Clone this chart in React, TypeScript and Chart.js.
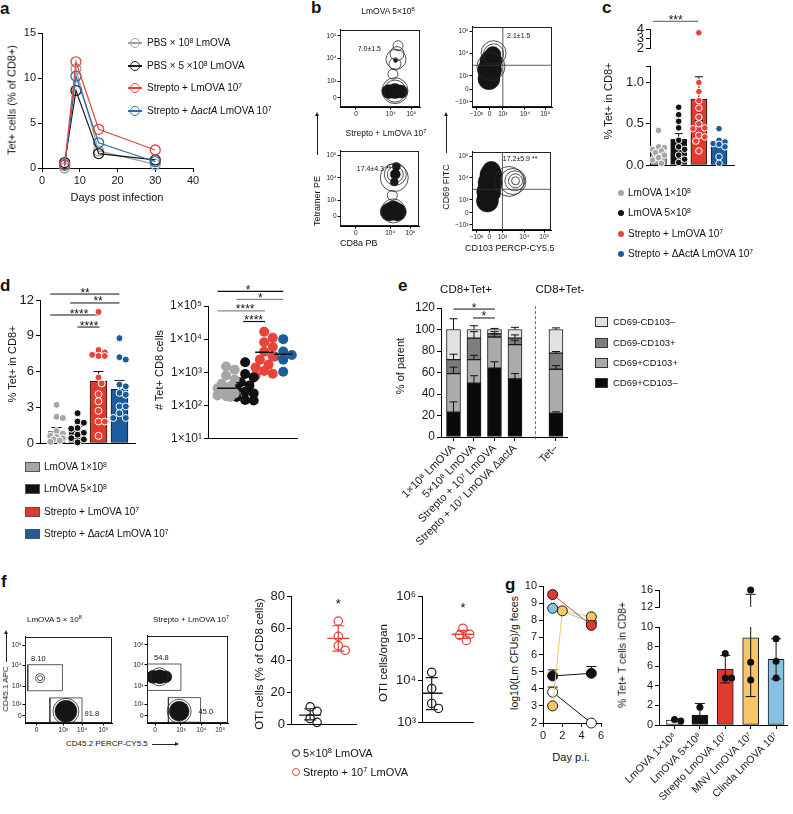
import React, { useEffect, useRef } from 'react';
import { Chart, registerables } from 'chart.js';

Chart.register(...registerables);
const FONT = "'Liberation Sans', Arial, Helvetica, sans-serif";
Chart.defaults.font.family = FONT;
Chart.defaults.font.size = 11;
Chart.defaults.color = '#1a1a1a';

/* ================= DATA ================= */
// a
const aDays = [6, 9, 15, 30];
const aPbs1e8 = [0.0, 11.0, 1.9, 0.4];
const aPbs5e8 = [0.6, 8.6, 1.6, 0.9];
const aStrepto = [0.4, 11.8, 4.3, 2.0];
const aStreptoActA = [0.3, 10.2, 2.8, 0.7];
const aXTicks = [0, 10, 20, 30, 40];
const aYTicks = [0, 5, 10, 15];

// b (flow plots, axis units)
const bTetTicksX = [0, 1.7, 2.7];
const bTetLabelsX = ['0', '10⁴', '10⁵'];
const bTetTicksY = [0, 0.74, 1.74, 2.74];
const bTetLabelsY = ['0', '10³', '10⁴', '10⁵'];
const bCdTicksX = [-1, 0, 1, 2.67, 4.2];
const bCdTicksY = [-0.93, 0, 1, 2.67, 4.33];
const bCdLabels = ['−10³', '0', '10³', '10⁴', '10⁵'];
const bTLDense = [{ x: 1.6, y: 0.28, r: 7 }, { x: 1.9, y: 0.3, r: 7.5 }, { x: 2.2, y: 0.28, r: 6.5 }, { x: 1.93, y: 1.65, r: 2 }];
const bTLRings = [{ x: 1.9, y: 0.3, r: 11 }, { x: 1.9, y: 0.32, r: 13 }, { x: 1.8, y: 1.05, r: 5 }, { x: 1.9, y: 1.5, r: 6 }, { x: 2.0, y: 1.95, r: 7 }, { x: 2.05, y: 2.3, r: 5 }, { x: 1.95, y: 1.7, r: 10 }];
const bBLDense = [{ x: 1.65, y: 0.2, r: 9 }, { x: 2.05, y: 0.2, r: 9 }, { x: 1.85, y: 0.3, r: 9 }, { x: 1.9, y: 1.55, r: 4 }, { x: 1.95, y: 1.9, r: 5 }, { x: 2.0, y: 2.25, r: 4 }];
const bBLRings = [{ x: 1.85, y: 0.25, r: 12 }, { x: 1.95, y: 1.9, r: 8 }, { x: 1.95, y: 1.9, r: 11 }, { x: 1.9, y: 1.75, r: 14 }, { x: 1.8, y: 0.95, r: 5 }];
const bTRDense = [{ x: -0.05, y: 0.8, r: 11 }, { x: 0, y: 1.45, r: 12 }, { x: 0.1, y: 2.1, r: 11 }, { x: 0.25, y: 2.6, r: 8 }];
const bTRRings = [{ x: 0.3, y: 2.65, r: 10 }, { x: 0.3, y: 2.7, r: 12.5 }, { x: 0.1, y: 1.7, r: 14 }];
const bBRDense = [{ x: -0.15, y: 0.9, r: 11 }, { x: -0.05, y: 1.6, r: 12 }, { x: 0.05, y: 2.3, r: 12 }, { x: 0.12, y: 2.9, r: 11 }, { x: 0.15, y: 3.25, r: 9 }];
const bBRRings = [{ x: 2.0, y: 2.45, r: 4 }, { x: 2.0, y: 2.45, r: 7 }, { x: 1.95, y: 2.45, r: 10 }, { x: 1.8, y: 2.4, r: 13 }, { x: 1.5, y: 2.4, r: 15 }];
const bQuadX = 1;
const bQuadY = 1.8;

// c
const cGroups = ['LmOVA 1×10⁸', 'LmOVA 5×10⁸', 'Strepto + LmOVA 10⁷', 'Strepto + ΔActA LmOVA 10⁷'];
const cMeans = [0.16, 0.31, 0.80, 0.24];
const cErrLo = [0.16, 0.31, 0.54, 0.24];
const cErrHi = [0.19, 0.38, 1.07, 0.27];
const cPts1 = [0.42, 0.22, 0.21, 0.19, 0.17, 0.15, 0.12, 0.09, 0.06, 0.02];
const cPts2 = [0.70, 0.61, 0.53, 0.45, 0.30, 0.22, 0.19, 0.12, 0.07, 0.03];
const cPts3 = [3.6, 1.0, 0.89, 0.78, 0.69, 0.58, 0.50, 0.45, 0.44, 0.36, 0.34, 0.29, 0.17];
const cPts4 = [0.44, 0.30, 0.28, 0.26, 0.25, 0.22, 0.10, 0.02];
const cYTicks = [0, 0.5, 1.0, 1.2];
const cYLabels = ['0.0', '0.5', '1.0', ''];

// d
const dGroups = ['LmOVA 1×10⁸', 'LmOVA 5×10⁸', 'Strepto + LmOVA 10⁷', 'Strepto + ΔactA LmOVA 10⁷'];
const dMeans = [0.95, 1.05, 5.2, 4.5];
const dErrHi = [1.3, 1.4, 6.0, 5.25];
const dPts1 = [3.2, 2.2, 2.1, 1.0, 0.8, 0.6, 0.5, 0.4, 0.3, 0.2, 0.1];
const dPts2 = [2.5, 1.8, 1.7, 1.25, 1.2, 0.85, 0.7, 0.4, 0.3, 0.05];
const dPts3 = [11.0, 7.8, 7.6, 7.4, 7.3, 7.3, 5.5, 5.0, 4.1, 3.5, 2.7, 1.8, 1.8, 0.6];
const dPts4 = [8.8, 7.2, 7.0, 4.9, 4.75, 4.2, 4.05, 3.07, 3.07, 2.5, 2.1, 2.1];
const dLBrackets = [[-0.3, 3.0, 12.5], [0.65, 3.0, 11.75], [-0.3, 2.05, 10.74], [1.0, 2.05, 9.73]];
const dLStars = ['**', '**', '****', '****'];
const dLStarX = [1.36, 1.98, 1.07, 1.55];
const dCnt1 = [1500, 1200, 800, 600, 450, 380, 330, 280, 230, 200, 190, 180];
const dCnt2 = [2000, 880, 700, 500, 400, 320, 260, 230, 180, 145, 140];
const dCnt3 = [16600, 11000, 8000, 5800, 4200, 3000, 2400, 1700, 1400, 1100, 900, 800];
const dCnt4 = [10000, 4200, 3300, 3000, 2400, 1040];
const dMedians = [330, 480, 4000, 3500];
const dRBrackets = [[-0.45, 3.0, 275000], [0.55, 3.0, 158000], [-0.45, 2.05, 71000], [0.9, 2.05, 34000]];
const dRStars = ['*', '*', '****', '****'];
const dRStarX = [1.15, 1.8, 1.0, 1.45];
const dRTicks = [10, 100, 1000, 10000, 100000];
const dRLabels = ['1×10¹', '1×10²', '1×10³', '1×10⁴', '1×10⁵'];

// e
const eCats = ['1×10⁸ LmOVA', '5×10⁸ LmOVA', 'Strepto + 10⁷ LmOVA', 'Strepto + 10⁷ LmOVA ΔactA', 'Tet–'];
const eX = [0, 1, 2, 3, 5];
const eSeries = ['CD69+CD103–', 'CD69+CD103+', 'CD69-CD103+', 'CD69-CD103–'];
const eCD69pCD103n = [23, 50, 64, 54, 22];
const eCD69pCD103p = [36, 22, 29, 32, 41];
const eCD69nCD103p = [13, 20, 3, 6, 15];
const eCD69nCD103n = [28, 8, 4, 8, 22];
const eErr1 = [9.7, 7, 6, 5, 1.4];
const eErr2 = [6, 4, 3, 4, 3.4];
const eErr3 = [5, 6, 2, 3, 1.5];
const eErr4 = [10, 3.5, 1, 2, 1.5];
const eYTicks = [0, 20, 40, 60, 80, 100, 120];
const eBrackets = [[0, 2.02, 119], [0.95, 2.02, 110.7]];
const eStars = ['*', '*'];

// f
const fTicksY = [0, 0.59, 1.5, 2.55, 3.55];
const fLabelsY = ['0', '10²', '10³', '10⁴', '10⁵'];
const f1TicksX = [0, 1.36, 2.32, 3.41];
const f2TicksX = [0, 1.32, 2.36, 3.32];
const fLabelsX = ['0', '10³', '10⁴', '10⁵'];
const f1Dense = [{ x: 1.5, y: 0.23, r: 11 }];
const f1Rings = [{ x: 1.5, y: 0.23, r: 13 }, { x: 0.18, y: 1.91, r: 2.5 }, { x: 0.18, y: 1.91, r: 4.5 }];
const f2Dense = [{ x: -0.1, y: 1.95, r: 6.5 }, { x: 0.25, y: 1.95, r: 7 }, { x: 0.55, y: 1.95, r: 6 }, { x: 1.23, y: 0.23, r: 10 }];
const f2Rings = [{ x: 1.23, y: 0.23, r: 12 }, { x: 0.22, y: 1.95, r: 9 }];
const fGateUpper = [-0.45, 1.27, 1.32, 2.59];
const fGateLower = [0.68, -0.32, 2.32, 0.91];
const fGateUpper2 = [-0.41, 1.27, 1.32, 2.59];
const fPctCtrl = [11.1, 8.3, 3.8, 1.4];
const fPctStrep = [64.6, 55.1, 49.2, 46.4];
const fPctMean = [5.9, 53.8];
const fPctSdLo = [3.0, 45.8];
const fPctSdHi = [9.9, 61.7];
const fCntCtrl = [15700, 6430, 2850, 2170];
const fCntStrep = [175000, 126000, 120000, 89600];
const fCntMean = [4970, 126000];
const fCntSdLo = [2030, 100000];
const fCntSdHi = [11700, 155000];

// g
const gRed = [{ x: 1, y: 9.5 }, { x: 5, y: 7.7 }];
const gBlue = [{ x: 1, y: 8.7 }, { x: 5, y: 7.9 }];
const gYellow = [{ x: 1, y: 3.0 }, { x: 2, y: 8.55 }, { x: 5, y: 8.2 }];
const gBlack = [{ x: 1, y: 4.75 }, { x: 5, y: 4.9 }];
const gBlackErr = [5.1, 5.3];
const gOpen = [{ x: 1, y: 3.8 }, { x: 5, y: 2.0 }];
const gOpenErr = [4.1, 2.0];
const gCats = ['LmOVA 1×10⁸', 'LmOVA 5×10⁸', 'Strepto LmOVA 10⁷', 'MNV LmOVA 10⁷', 'Clinda LmOVA 10⁷'];
const gMeans = [0.5, 1.0, 5.7, 8.9, 6.7];
const gErrLo = [0.5, 1.0, 4.3, 2.9, 4.7];
const gErrHi = [0.5, 2.2, 7.1, 15.0, 8.8];
const gPts = [[0.4, 0.55], [1.8], [7.3, 4.8, 4.8], [16, 6.4, 4.6], [8.8, 6.5, 4.8]];

/* ================= STYLE ================= */
const A_COLS = ['#a0a0a0', '#1a1a1a', '#e5463b', '#2b6ea7'];
const C_COLS = ['#a6a6a6', '#111111', '#e2392e', '#1d5c9c'];
const C_PT = ['#a6a6a6', '#111111', '#e8453a', '#1d5c9c'];
const E_COLS = ['#0a0a0a', '#ababab', '#7d7d7d', '#e2e2e2'];
const F_COLS = ['#1a1a1a', '#e0453a'];
const G_COLS = ['#ffffff', '#111111', '#e0392d', '#f6c667', '#86c1e2'];

const R: Record<string, number[]> = {
  a: [42, 33, 193, 168],
  bTL: [340, 22, 430, 107], bBL: [340, 142, 430, 227], bTR: [472, 18, 563, 108], bBR: [472, 142, 563, 232],
  cLo: [650, 66, 734, 165], cHi: [650, 29, 734, 53],
  dL: [40, 300, 135, 443], dR: [208, 306, 302, 443],
  e: [441, 308, 567, 437],
  f1: [25, 627, 123, 723], f2: [147, 627, 238, 723],
  fM: [291, 596, 363, 731], fR: [422, 596, 480, 729],
  gL: [543, 586, 601, 723], gLo: [659, 627, 787, 725], gHi: [659, 590, 787, 613],
};

/* ================= HELPERS ================= */
function ax(o: any) {
  const ticks: number[] | undefined = o.ticks;
  return {
    type: o.type || 'linear',
    min: o.min, max: o.max, offset: false,
    grid: ticks ? { display: true, drawOnChartArea: false, drawTicks: true, tickLength: o.tickLen ?? 4, color: '#000', lineWidth: 1, offset: false } : { display: false },
    border: { display: o.border !== false, color: '#000', width: 1 },
    afterBuildTicks: ticks ? (s: any) => { s.ticks = ticks.map((v) => ({ value: v })); } : undefined,
    ticks: {
      display: !!ticks,
      autoSkip: false,
      maxRotation: o.rot ?? 0, minRotation: o.rot ?? 0,
      padding: o.pad ?? 2,
      color: '#1a1a1a',
      font: { size: o.size ?? 11 },
      callback: (v: number) => {
        if (!ticks) return '';
        const i = ticks.findIndex((t) => Math.abs(t - v) < 1e-6 * Math.max(1, Math.abs(t)));
        return o.labels ? (o.labels[i] ?? '') : String(v);
      },
    },
  };
}

function annot(texts: any[] = [], frame = false) {
  return {
    id: 'annot',
    afterDatasetsDraw(chart: any) {
      const ctx = chart.ctx, xs = chart.scales.x, ys = chart.scales.y, a = chart.chartArea;
      ctx.save();
      if (frame) {
        ctx.strokeStyle = '#222'; ctx.lineWidth = 1;
        ctx.strokeRect(Math.round(a.left) + 0.5, Math.round(a.top) + 0.5, Math.round(a.right - a.left) - 1, Math.round(a.bottom - a.top) - 1);
      }
      for (const t of texts) {
        ctx.font = `${t.size ?? 11}px ${FONT}`;
        ctx.fillStyle = t.color ?? '#111';
        ctx.textAlign = t.align ?? 'center';
        ctx.textBaseline = t.base ?? 'middle';
        ctx.fillText(t.text, xs.getPixelForValue(t.x) + (t.dx ?? 0), ys.getPixelForValue(t.y) + (t.dy ?? 0));
      }
      ctx.restore();
    },
  };
}

function swarm(vals: number[], pyScale: number, pxScale: number, r: number, maxPx: number, log = false): number[] {
  const res = new Array(vals.length).fill(0);
  const placed: number[][] = [];
  const idx = vals.map((_, i) => i).sort((a, b) => vals[b] - vals[a]);
  const step = r * 0.9;
  for (const i of idx) {
    const py = (log ? Math.log10(vals[i]) : vals[i]) * pyScale;
    let chosen = 0, bestD = -1;
    for (let k = 0; k < 40; k++) {
      const off = k === 0 ? 0 : (k % 2 ? 1 : -1) * Math.ceil(k / 2) * step;
      if (Math.abs(off) > maxPx) continue;
      let md = Infinity;
      for (const p of placed) md = Math.min(md, Math.hypot(off - p[0], py - p[1]));
      if (md >= 2 * r * 0.9) { chosen = off; break; }
      if (md > bestD) { bestD = md; chosen = off; }
    }
    placed.push([chosen, py]);
    res[i] = chosen / pxScale;
  }
  return res;
}

function stems(xs: number[], lo: number[], hi: number[]) {
  const d: any[] = [];
  xs.forEach((x, i) => { if (hi[i] !== lo[i]) d.push({ x, y: lo[i] }, { x, y: hi[i] }, { x, y: null }); });
  return d;
}
function lineDs(data: any[], color: string, width = 1, extra: any = {}) {
  return { type: 'line', data, borderColor: color, borderWidth: width, pointRadius: 0, spanGaps: false, tension: 0, ...extra };
}
function capDs(data: any[], r: number, color: any, width = 1, extra: any = {}) {
  return { type: 'scatter', data, pointStyle: 'line', pointRadius: r, borderColor: color, pointBorderColor: color, pointBorderWidth: width, borderWidth: width, ...extra };
}
function dots(data: any[], r: number, fill: any, stroke: any, bw: number, extra: any = {}) {
  return { type: 'scatter', data, pointRadius: r, pointBackgroundColor: fill, pointBorderColor: stroke, pointBorderWidth: bw, backgroundColor: fill, borderColor: stroke, clip: false, ...extra };
}
function rectPath(g: number[]) {
  return [{ x: g[0], y: g[1] }, { x: g[2], y: g[1] }, { x: g[2], y: g[3] }, { x: g[0], y: g[3] }, { x: g[0], y: g[1] }];
}
function barDs(data: any[], colors: any, thick: number, extra: any = {}) {
  return { type: 'bar', data, backgroundColor: colors, borderColor: '#1a1a1a', borderWidth: 1, barThickness: thick, grouped: false, borderSkipped: false, order: 5, ...extra };
}

type M = { l: number; t: number; r: number; b: number };
function ChartBox({ rect, m, make }: { rect: number[]; m: M; make: () => any }) {
  const ref = useRef<HTMLCanvasElement | null>(null);
  const [x0, y0, x1, y1] = rect;
  const W = Math.round(x1 - x0 + m.l + m.r), H = Math.round(y1 - y0 + m.t + m.b);
  useEffect(() => {
    const cfg = make();
    const o = cfg.options || (cfg.options = {});
    o.animation = false; o.responsive = false; o.maintainAspectRatio = false; o.devicePixelRatio = 1; o.events = [];
    o.layout = { padding: { left: 0, top: m.t, right: m.r, bottom: 0 } };
    o.plugins = { legend: { display: false }, tooltip: { enabled: false }, ...(o.plugins || {}) };
    o.scales.x.afterFit = (s: any) => { s.height = m.b; s.paddingLeft = 0; s.paddingRight = 0; };
    o.scales.y.afterFit = (s: any) => { s.width = m.l; s.paddingTop = 0; s.paddingBottom = 0; };
    const ch = new Chart(ref.current as HTMLCanvasElement, cfg);
    return () => ch.destroy();
  }, []);
  return <canvas ref={ref} width={W} height={H} style={{ position: 'absolute', left: x0 - m.l, top: y0 - m.t, width: W, height: H }} />;
}

/* ================= CHART CONFIGS ================= */
function cfgA() {
  const s = (ys: number[], color: string, ord: number) => ({
    type: 'line', data: aDays.map((d, i) => ({ x: d, y: ys[i] })), borderColor: color, borderWidth: 1.2, tension: 0,
    pointRadius: 5, pointBorderWidth: 1.3, pointBackgroundColor: 'rgba(0,0,0,0)', pointBorderColor: color, clip: false, order: ord,
  });
  return {
    type: 'scatter',
    data: { datasets: [s(aStrepto, A_COLS[2], 0), s(aStreptoActA, A_COLS[3], 1), s(aPbs5e8, A_COLS[1], 2), s(aPbs1e8, A_COLS[0], 3)] },
    options: { scales: { x: ax({ min: 0, max: 40, ticks: aXTicks, size: 11 }), y: ax({ min: 0, max: 15, ticks: aYTicks, size: 11 }) } },
  };
}

function cfgFlow(p: any) {
  const ds: any[] = [
    { type: 'bubble', data: p.dense, backgroundColor: '#151515', borderColor: '#151515', borderWidth: 0.5, order: 2 },
    { type: 'bubble', data: p.rings, backgroundColor: 'rgba(0,0,0,0)', borderColor: '#2a2a2a', borderWidth: 0.8, order: 1 },
    ...p.segs.map((sg: any[]) => lineDs(sg, '#333', 0.8, { order: 0 })),
  ];
  return {
    type: 'scatter', data: { datasets: ds },
    options: { scales: {
      x: ax({ min: p.rx[0], max: p.rx[1], ticks: p.xt, labels: p.xl, size: 6.5, tickLen: 2.5, pad: 1 }),
      y: ax({ min: p.ry[0], max: p.ry[1], ticks: p.yt, labels: p.yl, size: 6.5, tickLen: 2.5, pad: 1 }),
    } },
    plugins: [annot(p.texts.map((t: any) => ({ size: 7, ...t })), true)],
  };
}
const quad = (rx: number[], ry: number[]) => [[{ x: bQuadX, y: ry[0] }, { x: bQuadX, y: ry[1] }], [{ x: rx[0], y: bQuadY }, { x: rx[1], y: bQuadY }]];

function cfgCLo() {
  const xs = cMeans.map((_, i) => i);
  const groups = [cPts1, cPts2, cPts3, cPts4];
  const ds: any[] = [
    barDs(xs.map((x, i) => ({ x, y: cMeans[i] })), C_COLS, 16),
    lineDs(stems(xs, cErrLo, cErrHi), '#111', 1, { order: 3 }),
    capDs(xs.map((x, i) => ({ x, y: cErrHi[i] })), 4, '#111', 1, { order: 3 }),
    capDs(xs.filter((i) => cErrLo[i] < cMeans[i]).map((x) => ({ x, y: cErrLo[x] })), 4, '#111', 1, { order: 3 }),
  ];
  groups.forEach((g, k) => {
    const vals = g.filter((v) => v <= 1.2);
    const off = swarm(vals, 82.7, 20.2, 3.3, 8);
    ds.push(dots(vals.map((v, i) => ({ x: k + off[i], y: v })), 3.3, C_PT[k], '#ffffff', 1, { order: 0 }));
  });
  return { type: 'scatter', data: { datasets: ds }, options: { scales: { x: ax({ min: -0.42, max: 3.74 }), y: ax({ min: 0, max: 1.2, ticks: cYTicks, labels: cYLabels, size: 13 }) } } };
}
function cfgCHi() {
  const groups = [cPts1, cPts2, cPts3, cPts4];
  const ds: any[] = [lineDs([{ x: -0.27, y: 4.8 }, { x: 1.96, y: 4.8 }], '#777', 1.3, { clip: false })];
  groups.forEach((g, k) => {
    const vals = g.filter((v) => v > 1.2);
    if (vals.length) ds.push(dots(vals.map((v) => ({ x: k, y: v })), 3.3, C_PT[k], '#ffffff', 1));
  });
  return {
    type: 'scatter', data: { datasets: ds },
    options: { scales: { x: ax({ min: -0.42, max: 3.74, border: false }), y: ax({ min: 2, max: 4, ticks: [2, 3, 4], size: 13 }) } },
    plugins: [annot([{ x: 0.85, y: 4.8, text: '***', size: 12, base: 'alphabetic', dy: 2.5 }])],
  };
}

function cfgDL() {
  const xs = dMeans.map((_, i) => i);
  const groups = [dPts1, dPts2, dPts3, dPts4];
  const ds: any[] = [
    barDs(xs.map((x, i) => ({ x, y: dMeans[i] })), C_COLS, 17),
    lineDs(stems(xs, dMeans, dErrHi), '#111', 1, { order: 3 }),
    capDs(xs.map((x, i) => ({ x, y: dErrHi[i] })), 5, '#111', 1, { order: 3 }),
  ];
  groups.forEach((g, k) => {
    const off = swarm(g, 11.9, 21, 3.5, 9);
    ds.push(dots(g.map((v, i) => ({ x: k + off[i], y: v })), 3.5, C_PT[k], '#ffffff', 1, { order: 0 }));
  });
  dLBrackets.forEach((b) => ds.push(lineDs([{ x: b[0], y: b[2] }, { x: b[1], y: b[2] }], '#111', 1, { clip: false })));
  return {
    type: 'scatter', data: { datasets: ds },
    options: { scales: { x: ax({ min: -0.79, max: 3.74 }), y: ax({ min: 0, max: 12, ticks: [0, 3, 6, 9, 12], size: 13 }) } },
    plugins: [annot(dLBrackets.map((b, i) => ({ x: dLStarX[i], y: b[2], text: dLStars[i], size: 12, base: 'alphabetic', dy: 2.5 })))],
  };
}

function cfgDR() {
  const groups = [dCnt1, dCnt2, dCnt3, dCnt4];
  const ds: any[] = [];
  groups.forEach((g, k) => {
    const off = swarm(g, 34.25, 20, 5, 9, true);
    ds.push(dots(g.map((v, i) => ({ x: k + off[i], y: v })), 5, C_PT[k], C_PT[k], 0, { order: 2 }));
  });
  ds.push(capDs(dMedians.map((v, i) => ({ x: i, y: v })), 9, '#111', 1.5, { order: 0 }));
  const bcol = ['#111', '#888', '#888', '#111'];
  dRBrackets.forEach((b, i) => ds.push(lineDs([{ x: b[0], y: b[2] }, { x: b[1], y: b[2] }], bcol[i], 1.2, { clip: false })));
  return {
    type: 'scatter', data: { datasets: ds },
    options: { scales: { x: ax({ min: -0.95, max: 3.75 }), y: ax({ type: 'logarithmic', min: 10, max: 100000, ticks: dRTicks, labels: dRLabels, size: 12 }) } },
    plugins: [annot(dRBrackets.map((b, i) => ({ x: dRStarX[i], y: b[2], text: dRStars[i], size: 12, base: 'alphabetic', dy: 2.5 })))],
  };
}

function cfgE() {
  const segs = [eCD69pCD103n, eCD69pCD103p, eCD69nCD103p, eCD69nCD103n];
  const errs = [eErr1, eErr2, eErr3, eErr4];
  const ds: any[] = [];
  let base = eX.map(() => 0);
  segs.forEach((seg, k) => {
    const lo = base.slice();
    const hi = base.map((b, i) => b + seg[i]);
    const top = hi.map((h, i) => h + errs[k][i]);
    ds.push(barDs(eX.map((x, i) => ({ x, y: [lo[i], hi[i]] })), E_COLS[k], 14));
    ds.push(lineDs(stems(eX, hi, top), '#111', 1, { order: 2 }));
    ds.push(capDs(eX.map((x, i) => ({ x, y: top[i] })), 4, '#111', 1, { order: 2 }));
    base = hi;
  });
  ds.push(lineDs([{ x: 4, y: -2 }, { x: 4, y: 123 }], '#666', 1, { borderDash: [3, 2], clip: false }));
  eBrackets.forEach((b) => ds.push(lineDs([{ x: b[0], y: b[2] }, { x: b[1], y: b[2] }], '#111', 1, { clip: false })));
  return {
    type: 'scatter', data: { datasets: ds },
    options: { scales: {
      x: ax({ min: -0.61, max: 5.54, ticks: eX, labels: eCats, rot: 45, size: 11, pad: 1 }),
      y: ax({ min: 0, max: 120, ticks: eYTicks, size: 12 }),
    } },
    plugins: [annot(eBrackets.map((b, i) => ({ x: (b[0] + b[1]) / 2, y: b[2], text: eStars[i], size: 12, base: 'alphabetic', dy: 2.5 })))],
  };
}

function cfgFM() {
  const ds: any[] = [];
  [fPctCtrl, fPctStrep].forEach((g, k) => {
    const off = swarm(g, 1.6875, 31, 4.2, 10);
    ds.push(dots(g.map((v, i) => ({ x: k + off[i], y: v })), 4.2, 'rgba(255,255,255,0)', F_COLS[k], 1.2, { order: 0 }));
    ds.push(lineDs([{ x: k, y: fPctSdLo[k] }, { x: k, y: fPctSdHi[k] }], F_COLS[k], 1.2, { order: 1 }));
    ds.push(capDs([{ x: k, y: fPctSdLo[k] }, { x: k, y: fPctSdHi[k] }], 6, F_COLS[k], 1.2, { order: 1 }));
    ds.push(capDs([{ x: k, y: fPctMean[k] }], 11, F_COLS[k], 1.4, { order: 1 }));
  });
  return {
    type: 'scatter', data: { datasets: ds },
    options: { scales: { x: ax({ min: -0.68, max: 1.65 }), y: ax({ min: 0, max: 80, ticks: [0, 20, 40, 60, 80], size: 13 }) } },
    plugins: [annot([{ x: 1, y: 72.5, text: '*', size: 13, base: 'alphabetic' }])],
  };
}
function cfgFR() {
  const ds: any[] = [];
  [fCntCtrl, fCntStrep].forEach((g, k) => {
    const off = swarm(g, 44.3, 35, 4.2, 12, true);
    ds.push(dots(g.map((v, i) => ({ x: k + off[i], y: v })), 4.2, 'rgba(255,255,255,0)', F_COLS[k], 1.2, { order: 0 }));
    ds.push(lineDs([{ x: k, y: fCntSdLo[k] }, { x: k, y: fCntSdHi[k] }], F_COLS[k], 1.2, { order: 1 }));
    ds.push(capDs([{ x: k, y: fCntSdLo[k] }, { x: k, y: fCntSdHi[k] }], 6, F_COLS[k], 1.2, { order: 1 }));
    ds.push(capDs([{ x: k, y: fCntMean[k] }], 11, F_COLS[k], 1.4, { order: 1 }));
  });
  return {
    type: 'scatter', data: { datasets: ds },
    options: { scales: { x: ax({ min: -0.31, max: 1.34 }), y: ax({ type: 'logarithmic', min: 1000, max: 1000000, ticks: [1e3, 1e4, 1e5, 1e6], labels: ['10³', '10⁴', '10⁵', '10⁶'], size: 13 }) } },
    plugins: [annot([{ x: 1, y: 420000, text: '*', size: 13, base: 'alphabetic' }])],
  };
}

function cfgGL() {
  const s = (data: any[], line: string, fill: string, ord: number) => ({
    type: 'line', data, borderColor: line, borderWidth: 1, tension: 0, pointRadius: 5, pointBorderWidth: 1,
    pointBackgroundColor: fill, pointBorderColor: '#1a1a1a', clip: false, order: ord,
  });
  const ds: any[] = [
    s(gRed, '#c4504a', '#e0392d', 0),
    s(gYellow, '#f1c46c', '#f6c667', 1),
    s(gBlue, '#8cc4e4', '#86c1e2', 2),
    s(gBlack, '#111', '#111', 3),
    s(gOpen, '#111', '#ffffff', 4),
    lineDs(stems(gBlack.map((p) => p.x), gBlack.map((p) => p.y), gBlackErr), '#111', 1, { order: 5 }),
    capDs(gBlack.map((p, i) => ({ x: p.x, y: gBlackErr[i] })), 5, '#111', 1, { order: 5 }),
    lineDs(stems(gOpen.map((p) => p.x), gOpen.map((p) => p.y), gOpenErr), '#111', 1, { order: 5 }),
    capDs(gOpen.filter((p, i) => gOpenErr[i] > p.y).map((p, i) => ({ x: p.x, y: gOpenErr[i] })), 5, '#111', 1, { order: 5 }),
  ];
  return {
    type: 'scatter', data: { datasets: ds },
    options: { scales: { x: ax({ min: 0, max: 6, ticks: [0, 2, 4, 6], size: 11 }), y: ax({ min: 2, max: 10, ticks: [2, 3, 4, 5, 6, 7, 8, 9, 10], size: 11 }) } },
  };
}

function gSets(upper: boolean) {
  const xs = gMeans.map((_, i) => i);
  const ds: any[] = [];
  if (!upper) ds.push(barDs(xs.map((x, i) => ({ x, y: gMeans[i] })), G_COLS, 16));
  ds.push(lineDs(stems(xs, gErrLo, gErrHi), '#111', 1, { order: 3 }));
  ds.push(capDs(xs.filter((i) => gErrHi[i] > gMeans[i]).map((x) => ({ x, y: gErrHi[x] })), 5, '#111', 1, { order: 3 }));
  ds.push(capDs(xs.filter((i) => gErrLo[i] < gMeans[i]).map((x) => ({ x, y: gErrLo[x] })), 5, '#111', 1, { order: 3 }));
  gPts.forEach((g, k) => {
    const vals = g.filter((v) => (upper ? v > 10 : v <= 10));
    if (!vals.length) return;
    const off = swarm(vals, 9.8, 25.4, 3.5, 9);
    ds.push(dots(vals.map((v, i) => ({ x: k + off[i], y: v })), 3.5, '#111', '#111', 0, { order: 0 }));
  });
  return ds;
}
function cfgGLo() {
  return {
    type: 'scatter', data: { datasets: gSets(false) },
    options: { scales: {
      x: ax({ min: -0.61, max: 4.43, ticks: [0, 1, 2, 3, 4], labels: gCats, rot: 45, size: 10.5, pad: 1 }),
      y: ax({ min: 0, max: 10, ticks: [0, 2, 4, 6, 8, 10], size: 11 }),
    } },
  };
}
function cfgGHi() {
  return {
    type: 'scatter', data: { datasets: gSets(true) },
    options: { scales: { x: ax({ min: -0.61, max: 4.43, border: false }), y: ax({ min: 12, max: 16, ticks: [12, 16], size: 11 }) } },
  };
}

/* ================= HTML BITS ================= */
const SUPMAP: Record<string, string> = { '⁰': '0', '¹': '1', '²': '2', '³': '3', '⁴': '4', '⁵': '5', '⁶': '6', '⁷': '7', '⁸': '8', '⁹': '9' };
const supStyle: any = { fontSize: '0.68em', verticalAlign: '0.5em', lineHeight: 0 };
function rich(s: string) {
  const out: any[] = [];
  let buf = '', sup = '';
  for (const ch of s) {
    if (SUPMAP[ch]) {
      if (buf) { out.push(buf); buf = ''; }
      sup += SUPMAP[ch];
    } else {
      if (sup) { out.push(<sup key={out.length} style={supStyle}>{sup}</sup>); sup = ''; }
      buf += ch;
    }
  }
  if (buf) out.push(buf);
  if (sup) out.push(<sup key={out.length} style={supStyle}>{sup}</sup>);
  return out;
}
function Tx({ x, y, s = 10, a = 'l', rot = false, b = false, col = '#111', children }: any) {
  const tf = rot ? 'translate(-50%,-50%) rotate(-90deg)' : a === 'c' ? 'translate(-50%,-50%)' : a === 'r' ? 'translate(-100%,-50%)' : 'translate(0,-50%)';
  const content = typeof children === 'string' ? rich(children) : children;
  return <div style={{ position: 'absolute', left: x, top: y, transform: tf, fontSize: s, fontFamily: FONT, fontWeight: b ? 'bold' : 'normal', color: col, whiteSpace: 'nowrap', lineHeight: 1 }}>{content}</div>;
}
function Sw({ x, y, w, h, color, border = '#444' }: any) {
  return <div style={{ position: 'absolute', left: x, top: y - h / 2, width: w, height: h, background: color, border: `1px solid ${border}`, boxSizing: 'border-box' }} />;
}
function Dot({ x, y, d, fill, stroke, bw = 1 }: any) {
  return <div style={{ position: 'absolute', left: x - d / 2, top: y - d / 2, width: d, height: d, borderRadius: '50%', background: fill, border: `${bw}px solid ${stroke}`, boxSizing: 'border-box' }} />;
}
function HL({ x1, x2, y, color, w = 1 }: any) {
  return <div style={{ position: 'absolute', left: x1, top: y - w / 2, width: x2 - x1, height: w, background: color }} />;
}
function VArrow({ x, y1, y2 }: any) {
  return (<>
    <div style={{ position: 'absolute', left: x - 0.5, top: y1 + 3, width: 1, height: y2 - y1 - 3, background: '#222' }} />
    <div style={{ position: 'absolute', left: x - 2.5, top: y1, width: 0, height: 0, borderLeft: '2.5px solid transparent', borderRight: '2.5px solid transparent', borderBottom: '4px solid #222' }} />
  </>);
}
function HArrow({ x1, x2, y }: any) {
  return (<>
    <div style={{ position: 'absolute', left: x1, top: y - 0.5, width: x2 - x1 - 3, height: 1, background: '#222' }} />
    <div style={{ position: 'absolute', left: x2 - 4, top: y - 2.5, width: 0, height: 0, borderTop: '2.5px solid transparent', borderBottom: '2.5px solid transparent', borderLeft: '4px solid #222' }} />
  </>);
}
const Sp = ({ children }: any) => <sup style={supStyle}>{children}</sup>;

const mFlowB = { l: 24, t: 6, r: 4, b: 14 };
const mFlowF = { l: 20, t: 4, r: 3, b: 14 };

export default function App() {
  const aLegend = [
    <>PBS × 10<Sp>8</Sp> LmOVA</>, <>PBS × 5 ×10<Sp>8</Sp> LmOVA</>, <>Strepto + LmOVA 10<Sp>7</Sp></>, <>Strepto + Δ<i>actA</i> LmOVA 10<Sp>7</Sp></>,
  ];
  const aLegY = [43, 66, 88, 111];
  const dLegend = [<>LmOVA 1×10<Sp>8</Sp></>, <>LmOVA 5×10<Sp>8</Sp></>, <>Strepto + LmOVA 10<Sp>7</Sp></>, <>Strepto + Δ<i>actA</i> LmOVA 10<Sp>7</Sp></>];
  const eLegOrder = [3, 2, 1, 0];
  return (
    <div style={{ position: 'absolute', left: 0, top: 0, width: 793, height: 814, background: '#fff', overflow: 'hidden', fontFamily: FONT }}>
      {/* panel letters */}
      <Tx x={0} y={8} s={17} b>a</Tx>
      <Tx x={311} y={7} s={17} b>b</Tx>
      <Tx x={602} y={7} s={17} b>c</Tx>
      <Tx x={0} y={285} s={17} b>d</Tx>
      <Tx x={398} y={285} s={17} b>e</Tx>
      <Tx x={1} y={581} s={17} b>f</Tx>
      <Tx x={505} y={584} s={17} b>g</Tx>

      {/* a */}
      <ChartBox rect={R.a} m={{ l: 40, t: 10, r: 10, b: 30 }} make={cfgA} />
      <Tx x={12} y={100} s={11} rot>Tet+ cells (% of CD8+)</Tx>
      <Tx x={117} y={197} s={11} a="c">Days post infection</Tx>
      {aLegY.map((y, i) => (
        <React.Fragment key={i}>
          <HL x1={128} x2={142} y={y} color={A_COLS[i]} w={1.2} />
          <Dot x={135} y={y} d={10} fill="rgba(255,255,255,0)" stroke={A_COLS[i]} bw={1.3} />
          <Tx x={147} y={y} s={10}>{aLegend[i]}</Tx>
        </React.Fragment>
      ))}

      {/* b */}
      <ChartBox rect={R.bTL} m={mFlowB} make={() => cfgFlow({ rx: [-0.78, 3.13], ry: [-0.4, 3.0], xt: bTetTicksX, xl: bTetLabelsX, yt: bTetTicksY, yl: bTetLabelsY, dense: bTLDense, rings: bTLRings, segs: [], texts: [{ x: 0.65, y: 2.16, text: '7.0±1.5' }] })} />
      <ChartBox rect={R.bBL} m={mFlowB} make={() => cfgFlow({ rx: [-0.78, 3.13], ry: [-0.44, 2.96], xt: bTetTicksX, xl: bTetLabelsX, yt: bTetTicksY, yl: bTetLabelsY, dense: bBLDense, rings: bBLRings, segs: [], texts: [{ x: 0.9, y: 2.12, text: '17.4±4.3 **' }] })} />
      <ChartBox rect={R.bTR} m={mFlowB} make={() => cfgFlow({ rx: [-1.33, 4.73], ry: [-1.33, 4.67], xt: bCdTicksX, xl: bCdLabels, yt: bCdTicksY, yl: bCdLabels, dense: bTRDense, rings: bTRRings, segs: quad([-1.33, 4.73], [-1.33, 4.67]), texts: [{ x: 2.2, y: 4.0, text: '2.1±1.5' }] })} />
      <ChartBox rect={R.bBR} m={mFlowB} make={() => cfgFlow({ rx: [-1.33, 4.73], ry: [-1.33, 4.67], xt: bCdTicksX, xl: bCdLabels, yt: bCdTicksY, yl: bCdLabels, dense: bBRDense, rings: bBRRings, segs: quad([-1.33, 4.73], [-1.33, 4.67]), texts: [{ x: 2.35, y: 4.13, text: '17.2±5.9 **' }] })} />
      <Tx x={388} y={11} s={8.5} a="c">LmOVA 5×10⁸</Tx>
      <Tx x={386} y={133} s={8.5} a="c">Strepto + LmOVA 10⁷</Tx>
      <VArrow x={317} y1={112} y2={155} />
      <Tx x={317} y={201} s={9} rot>Tetramer PE</Tx>
      <VArrow x={446} y1={112} y2={153} />
      <Tx x={446} y={187} s={9} rot>CD69 FITC</Tx>
      <Tx x={340} y={243} s={9}>CD8a PB</Tx>
      <Tx x={465} y={248} s={9}>CD103 PERCP-CY5.5</Tx>

      {/* c */}
      <ChartBox rect={R.cHi} m={{ l: 45, t: 28, r: 6, b: 0 }} make={cfgCHi} />
      <ChartBox rect={R.cLo} m={{ l: 45, t: 8, r: 6, b: 6 }} make={cfgCLo} />
      <Tx x={608} y={101} s={11} rot>% Tet+ in CD8+</Tx>
      {[193, 213, 234, 254].map((y, i) => (
        <React.Fragment key={i}>
          <Dot x={621} y={y} d={6} fill={C_PT[i]} stroke={C_PT[i]} bw={0} />
          <Tx x={628} y={y} s={10}>{cGroups[i]}</Tx>
        </React.Fragment>
      ))}

      {/* d */}
      <ChartBox rect={R.dL} m={{ l: 38, t: 30, r: 6, b: 6 }} make={cfgDL} />
      <ChartBox rect={R.dR} m={{ l: 52, t: 25, r: 6, b: 6 }} make={cfgDR} />
      <Tx x={12} y={364} s={11} rot>% Tet+ in CD8+</Tx>
      <Tx x={159} y={370} s={11} rot># Tet+ CD8 cells</Tx>
      {[467, 489, 512, 534].map((y, i) => (
        <React.Fragment key={i}>
          <Sw x={25} y={y} w={15} h={10} color={C_COLS[i]} border="#555" />
          <Tx x={44} y={y} s={10}>{dLegend[i]}</Tx>
        </React.Fragment>
      ))}
      <span style={{ display: 'none' }}>{dGroups.join(',')}</span>

      {/* e */}
      <ChartBox rect={R.e} m={{ l: 60, t: 35, r: 8, b: 112 }} make={cfgE} />
      <Tx x={400} y={366} s={11} rot>% of parent</Tx>
      <Tx x={466} y={290} s={11.5} a="c">CD8+Tet+</Tx>
      <Tx x={560} y={290} s={11.5} a="c">CD8+Tet-</Tx>
      {[322, 343, 363, 383].map((y, i) => (
        <React.Fragment key={i}>
          <Sw x={595} y={y} w={13} h={10} color={E_COLS[eLegOrder[i]]} border="#333" />
          <Tx x={613} y={y} s={9.5}>{eSeries[eLegOrder[i]]}</Tx>
        </React.Fragment>
      ))}

      {/* f */}
      <ChartBox rect={R.f1} m={mFlowF} make={() => cfgFlow({ rx: [-0.59, 3.86], ry: [-0.36, 4.0], xt: f1TicksX, xl: fLabelsX, yt: fTicksY, yl: fLabelsY, dense: f1Dense, rings: f1Rings, segs: [rectPath(fGateUpper), rectPath(fGateLower)], texts: [{ x: 0.09, y: 2.9, text: '8.10', size: 7.5 }, { x: 2.82, y: 0.09, text: '91.8', size: 7.5 }] })} />
      <ChartBox rect={R.f2} m={mFlowF} make={() => cfgFlow({ rx: [-0.41, 3.73], ry: [-0.36, 4.0], xt: f2TicksX, xl: fLabelsX, yt: fTicksY, yl: fLabelsY, dense: f2Dense, rings: f2Rings, segs: [rectPath(fGateUpper2), rectPath(fGateLower)], texts: [{ x: 0.32, y: 2.9, text: '54.8', size: 7.5 }, { x: 2.59, y: 0.18, text: '45.0', size: 7.5 }] })} />
      <Tx x={27} y={620} s={8}>LmOVA 5 × 10⁸</Tx>
      <Tx x={153} y={620} s={8}>Strepto + LmOVA 10⁷</Tx>
      <VArrow x={6} y1={630} y2={662} />
      <Tx x={6} y={689} s={8} rot>CD45.1 APC</Tx>
      <Tx x={66} y={744} s={8}>CD45.2 PERCP-CY5.5</Tx>
      <HArrow x1={152} x2={179} y={744} />
      <ChartBox rect={R.fM} m={{ l: 38, t: 12, r: 6, b: 6 }} make={cfgFM} />
      <ChartBox rect={R.fR} m={{ l: 34, t: 12, r: 6, b: 6 }} make={cfgFR} />
      <Tx x={260} y={664} s={11.5} rot>OTI cells (% of CD8 cells)</Tx>
      <Tx x={384} y={663} s={11.5} rot>OTI cells/organ</Tx>
      <Dot x={296} y={753} d={8} fill="#fff" stroke={F_COLS[0]} bw={1.1} />
      <Tx x={303} y={753} s={11}>5×10⁸ LmOVA</Tx>
      <Dot x={296} y={772} d={8} fill="#fff" stroke={F_COLS[1]} bw={1.1} />
      <Tx x={303} y={772} s={11}>Strepto + 10⁷ LmOVA</Tx>

      {/* g */}
      <ChartBox rect={R.gL} m={{ l: 22, t: 8, r: 8, b: 22 }} make={cfgGL} />
      <Tx x={514} y={653} s={10.5} rot>log10(Lm CFUs)/g feces</Tx>
      <Tx x={571} y={757} s={11} a="c">Day p.i.</Tx>
      <ChartBox rect={R.gHi} m={{ l: 24, t: 8, r: 6, b: 0 }} make={cfgGHi} />
      <ChartBox rect={R.gLo} m={{ l: 50, t: 6, r: 6, b: 90 }} make={cfgGLo} />
      <Tx x={622} y={655} s={10.5} rot>% Tet+ T cells in CD8+</Tx>
    </div>
  );
}
